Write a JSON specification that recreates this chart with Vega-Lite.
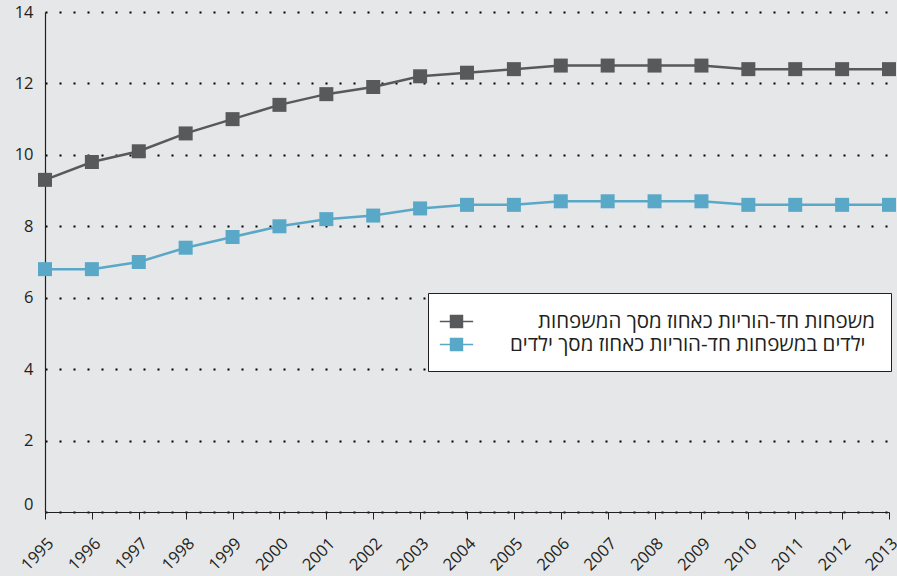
{
  "$schema": "https://vega.github.io/schema/vega-lite/v6.json",
  "width": 844,
  "height": 500,
  "autosize": {"type": "none"},
  "padding": {"left": 45, "top": 12, "right": 8, "bottom": 64},
  "background": "#e6e7e8",
  "config": {
    "view": {"stroke": null},
    "font": "Open Sans",
    "axis": {"labelFont": "Open Sans", "labelFontSize": 16.5, "labelColor": "#231f20"}
  },
  "data": {
    "values": [
      {"year": 1995, "series": "משפחות חד-הוריות כאחוז מסך המשפחות", "value": 9.3},
      {"year": 1996, "series": "משפחות חד-הוריות כאחוז מסך המשפחות", "value": 9.8},
      {"year": 1997, "series": "משפחות חד-הוריות כאחוז מסך המשפחות", "value": 10.1},
      {"year": 1998, "series": "משפחות חד-הוריות כאחוז מסך המשפחות", "value": 10.6},
      {"year": 1999, "series": "משפחות חד-הוריות כאחוז מסך המשפחות", "value": 11.0},
      {"year": 2000, "series": "משפחות חד-הוריות כאחוז מסך המשפחות", "value": 11.4},
      {"year": 2001, "series": "משפחות חד-הוריות כאחוז מסך המשפחות", "value": 11.7},
      {"year": 2002, "series": "משפחות חד-הוריות כאחוז מסך המשפחות", "value": 11.9},
      {"year": 2003, "series": "משפחות חד-הוריות כאחוז מסך המשפחות", "value": 12.2},
      {"year": 2004, "series": "משפחות חד-הוריות כאחוז מסך המשפחות", "value": 12.3},
      {"year": 2005, "series": "משפחות חד-הוריות כאחוז מסך המשפחות", "value": 12.4},
      {"year": 2006, "series": "משפחות חד-הוריות כאחוז מסך המשפחות", "value": 12.5},
      {"year": 2007, "series": "משפחות חד-הוריות כאחוז מסך המשפחות", "value": 12.5},
      {"year": 2008, "series": "משפחות חד-הוריות כאחוז מסך המשפחות", "value": 12.5},
      {"year": 2009, "series": "משפחות חד-הוריות כאחוז מסך המשפחות", "value": 12.5},
      {"year": 2010, "series": "משפחות חד-הוריות כאחוז מסך המשפחות", "value": 12.4},
      {"year": 2011, "series": "משפחות חד-הוריות כאחוז מסך המשפחות", "value": 12.4},
      {"year": 2012, "series": "משפחות חד-הוריות כאחוז מסך המשפחות", "value": 12.4},
      {"year": 2013, "series": "משפחות חד-הוריות כאחוז מסך המשפחות", "value": 12.4},
      {"year": 1995, "series": "ילדים במשפחות חד-הוריות כאחוז מסך ילדים", "value": 6.8},
      {"year": 1996, "series": "ילדים במשפחות חד-הוריות כאחוז מסך ילדים", "value": 6.8},
      {"year": 1997, "series": "ילדים במשפחות חד-הוריות כאחוז מסך ילדים", "value": 7.0},
      {"year": 1998, "series": "ילדים במשפחות חד-הוריות כאחוז מסך ילדים", "value": 7.4},
      {"year": 1999, "series": "ילדים במשפחות חד-הוריות כאחוז מסך ילדים", "value": 7.7},
      {"year": 2000, "series": "ילדים במשפחות חד-הוריות כאחוז מסך ילדים", "value": 8.0},
      {"year": 2001, "series": "ילדים במשפחות חד-הוריות כאחוז מסך ילדים", "value": 8.2},
      {"year": 2002, "series": "ילדים במשפחות חד-הוריות כאחוז מסך ילדים", "value": 8.3},
      {"year": 2003, "series": "ילדים במשפחות חד-הוריות כאחוז מסך ילדים", "value": 8.5},
      {"year": 2004, "series": "ילדים במשפחות חד-הוריות כאחוז מסך ילדים", "value": 8.6},
      {"year": 2005, "series": "ילדים במשפחות חד-הוריות כאחוז מסך ילדים", "value": 8.6},
      {"year": 2006, "series": "ילדים במשפחות חד-הוריות כאחוז מסך ילדים", "value": 8.7},
      {"year": 2007, "series": "ילדים במשפחות חד-הוריות כאחוז מסך ילדים", "value": 8.7},
      {"year": 2008, "series": "ילדים במשפחות חד-הוריות כאחוז מסך ילדים", "value": 8.7},
      {"year": 2009, "series": "ילדים במשפחות חד-הוריות כאחוז מסך ילדים", "value": 8.7},
      {"year": 2010, "series": "ילדים במשפחות חד-הוריות כאחוז מסך ילדים", "value": 8.6},
      {"year": 2011, "series": "ילדים במשפחות חד-הוריות כאחוז מסך ילדים", "value": 8.6},
      {"year": 2012, "series": "ילדים במשפחות חד-הוריות כאחוז מסך ילדים", "value": 8.6},
      {"year": 2013, "series": "ילדים במשפחות חד-הוריות כאחוז מסך ילדים", "value": 8.6}
    ]
  },
  "mark": {
    "type": "line",
    "strokeWidth": 2.5,
    "clip": false,
    "point": {"shape": "square", "size": 196, "filled": true, "opacity": 1}
  },
  "encoding": {
    "x": {
      "field": "year",
      "type": "quantitative",
      "scale": {"domain": [1995, 2013], "nice": false, "zero": false},
      "axis": {
        "title": null,
        "values": [1995,1996,1997,1998,1999,2000,2001,2002,2003,2004,2005,2006,2007,2008,2009,2010,2011,2012,2013],
        "format": "d",
        "labelAngle": -45,
        "grid": false,
        "domainColor": "#231f20",
        "domainWidth": 1.2,
        "tickColor": "#231f20",
        "tickSize": 7,
        "labelPadding": 16,
        "labelFlush": false,
        "labelOverlap": false,
        "labelBound": false
      }
    },
    "y": {
      "field": "value",
      "type": "quantitative",
      "scale": {"domain": [0, 14], "nice": false},
      "axis": {
        "title": null,
        "values": [0, 2, 4, 6, 8, 10, 12, 14],
        "domainColor": "#231f20",
        "domainWidth": 1.2,
        "ticks": false,
        "labelPadding": 12,
        "labelBaseline": {"condition": {"test": "datum.value === 0", "value": "bottom"}, "value": "middle"},
        "gridColor": "#000000",
        "gridDash": [2, 12],
        "gridWidth": 2,
        "gridOpacity": 1
      }
    },
    "color": {
      "field": "series",
      "type": "nominal",
      "sort": ["משפחות חד-הוריות כאחוז מסך המשפחות", "ילדים במשפחות חד-הוריות כאחוז מסך ילדים"],
      "scale": {
        "domain": ["משפחות חד-הוריות כאחוז מסך המשפחות", "ילדים במשפחות חד-הוריות כאחוז מסך ילדים"],
        "range": ["#58595b", "#59a8c8"]
      },
      "legend": {
        "title": null,
        "orient": "none",
        "legendX": 383,
        "legendY": 281,
        "fillColor": "#ffffff",
        "strokeColor": "#231f20",
        "padding": 16,
        "symbolType": "M-1.45,0H-0.52M0.52,0H1.45M-0.52,-0.52H0.52V0.52H-0.52Z",
        "symbolSize": 529,
        "symbolStrokeWidth": 1.5,
        "labelFont": "Open Sans",
        "labelFontSize": 20.5,
        "labelColor": "#231f20",
        "labelAlign": "left",
        "labelOffset": 41,
        "labelLimit": 600,
        "rowPadding": 0,
        "encode": {
          "symbols": {
            "update": {
              "fill": {"scale": "color", "field": "value"},
              "stroke": {"scale": "color", "field": "value"},
              "opacity": {"value": 1}
            }
          },
          "labels": {
            "update": {
              "dx": {"signal": "datum.index === 0 ? 28 : 0"}
            }
          }
        }
      }
    }
  }
}
